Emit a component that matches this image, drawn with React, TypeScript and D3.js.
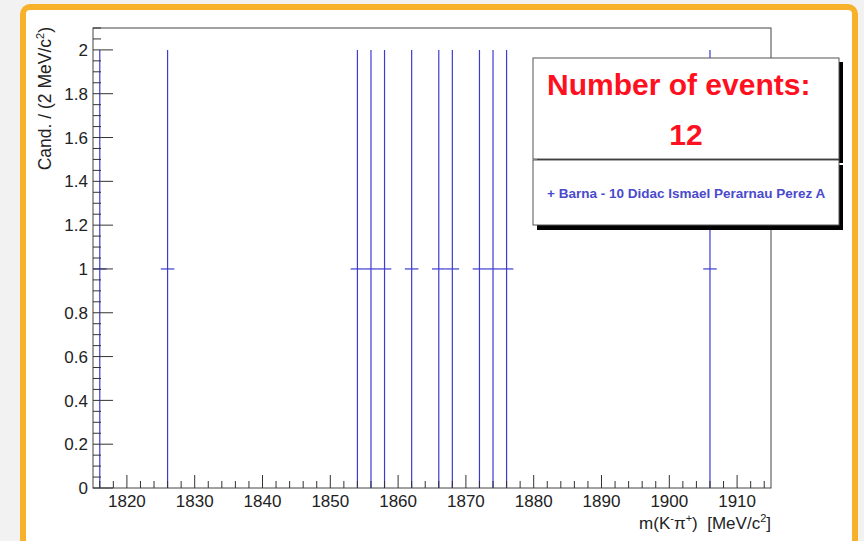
import React from "react";
import * as d3 from "d3";

// ---- data ----
const binCenters = [1816, 1826, 1854, 1856, 1858, 1862, 1866, 1868, 1872, 1874, 1876, 1906];
const binCounts = [1, 1, 1, 1, 1, 1, 1, 1, 1, 1, 1, 1];
const binWidth = 2;
const xDomain = [1815, 1915];
const yDomain = [0, 2.1];
const xMajorTicks = [1820, 1830, 1840, 1850, 1860, 1870, 1880, 1890, 1900, 1910];
const yMajorTicks = [0, 0.2, 0.4, 0.6, 0.8, 1, 1.2, 1.4, 1.6, 1.8, 2];
const yTickLabels = ["0", "0.2", "0.4", "0.6", "0.8", "1", "1.2", "1.4", "1.6", "1.8", "2"];
const titleLine1 = "Number of events:";
const titleLine2 = "12";
const legendLabel = "+ Barna - 10 Didac Ismael Perarnau Perez A";

const W = 864;
const H = 541;
const FL = 93, FR = 771, FT = 28, FB = 488;

export default function App() {
  const x = d3.scaleLinear().domain(xDomain).range([FL, FR]);
  const y = d3.scaleLinear().domain(yDomain).range([FB, FT]);

  const xMinor = d3.range(xDomain[0] + 1, xDomain[1], 2).filter((v) => !xMajorTicks.includes(v));
  const yMinor = d3.range(0, 2.1001, 0.05).map((v) => +v.toFixed(2)).filter((v) => Math.round(v * 100) % 20 !== 0);

  const font = "'Liberation Sans', Arial, Helvetica, sans-serif";
  const axisColor = "#333";
  const barColor = "#3c3cd0";

  return (
    <svg width={W} height={H} style={{ position: "absolute", left: 0, top: 0 }} fontFamily={font}>
      <rect x={0} y={0} width={W} height={H} fill="#f2f2f2" />
      <rect x={23} y={7} width={832} height={540} rx={7} ry={7} fill="#ffffff" stroke="#f8b12b" strokeWidth={6} />

      {/* error bars */}
      <g stroke={barColor} strokeWidth={1.2}>
        {binCenters.map((c, i) => {
          const n = binCounts[i];
          const e = Math.sqrt(n);
          return (
            <g key={i}>
              <line x1={x(c)} x2={x(c)} y1={y(n - e)} y2={y(n + e)} />
              <line x1={x(c - binWidth / 2)} x2={x(c + binWidth / 2)} y1={y(n)} y2={y(n)} />
            </g>
          );
        })}
      </g>

      {/* frame */}
      <rect x={FL} y={FT} width={FR - FL} height={FB - FT} fill="none" stroke="#444" strokeWidth={1} />

      {/* ticks */}
      <g stroke={axisColor} strokeWidth={1}>
        {xMajorTicks.map((t) => (
          <line key={"xM" + t} x1={x(t)} x2={x(t)} y1={FB} y2={FB - 13} />
        ))}
        {xMinor.map((t) => (
          <line key={"xm" + t} x1={x(t)} x2={x(t)} y1={FB} y2={FB - 7} />
        ))}
        {yMajorTicks.map((t) => (
          <line key={"yM" + t} x1={FL} x2={FL + 20} y1={y(t)} y2={y(t)} />
        ))}
        {yMinor.map((t) => (
          <line key={"ym" + t} x1={FL} x2={FL + 8} y1={y(t)} y2={y(t)} />
        ))}
      </g>

      {/* tick labels */}
      <g fontSize={17} fill="#222">
        {xMajorTicks.map((t) => (
          <text key={"xl" + t} x={x(t)} y={507} textAnchor="middle">{t}</text>
        ))}
        {yMajorTicks.map((t, i) => (
          <text key={"yl" + t} x={88} y={y(t)} dy="0.36em" textAnchor="end">{yTickLabels[i]}</text>
        ))}
      </g>

      {/* axis titles */}
      <text x={FR} y={529} fontSize={17} fill="#222" textAnchor="end">
        m(K<tspan fontSize={11} dy={-7}>-</tspan><tspan dy={7}>π</tspan><tspan fontSize={11} dy={-7}>+</tspan><tspan dy={7}>){"\u00a0\u00a0"}[MeV/c</tspan><tspan fontSize={11} dy={-7}>2</tspan><tspan dy={7}>]</tspan>
      </text>
      <text transform={`translate(51,27) rotate(-90)`} fontSize={17.5} fill="#222" textAnchor="end">
        Cand. / (2 MeV/c<tspan fontSize={11} dy={-7}>2</tspan><tspan dy={7}>)</tspan>
      </text>

      {/* title pave */}
      <rect x={537} y={62} width={306} height={101} fill="#000" />
      <rect x={533} y={58} width={306} height={101} fill="#fff" stroke="#555" strokeWidth={1} />
      <text x={547} y={95} fontSize={30} fontWeight="bold" fill="#ff1020">{titleLine1}</text>
      <text x={686} y={145} fontSize={30} fontWeight="bold" fill="#ff1020" textAnchor="middle">{titleLine2}</text>

      {/* legend */}
      <rect x={537} y={165} width={306} height={65} fill="#000" />
      <rect x={533} y={160} width={306} height={65} fill="#fff" stroke="#555" strokeWidth={1} />
      <text x={547} y={198} fontSize={13.5} fontWeight="bold" fill="#4a4acc">{legendLabel}</text>
    </svg>
  );
}
